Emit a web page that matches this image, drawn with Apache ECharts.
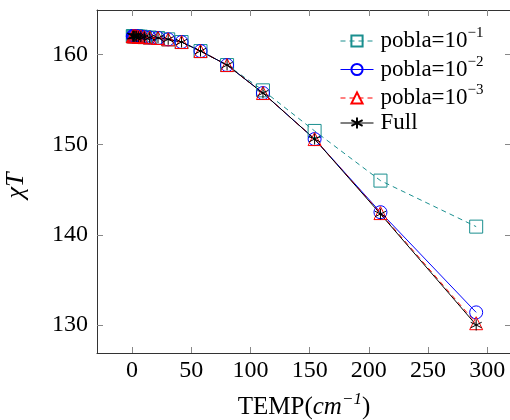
<!DOCTYPE html>
<html><head><meta charset="utf-8">
<script src="https://cdn.jsdelivr.net/npm/echarts@6/dist/echarts.min.js"></script>
<style>html,body{margin:0;padding:0;background:#fff}#c{width:510px;height:420px}</style>
</head><body><div id="c"></div>
<script>
const temps = [0.7, 1.0, 1.4, 2.0, 2.8, 3.9, 5.4, 7.5, 10.5, 15.0, 22.0, 30.6, 41.9, 57.9, 80.3, 110.6, 154.2, 209.8, 290.6];
const pobla1 = [162.0, 162.0, 162.0, 162.0, 162.0, 162.0, 161.95, 161.95, 161.9, 161.85, 161.8, 161.65, 161.35, 160.35, 158.8, 156.0, 151.5, 146.0, 140.9];
const pobla2 = [162.0, 162.0, 162.0, 162.0, 162.0, 162.0, 161.95, 161.95, 161.9, 161.85, 161.8, 161.65, 161.35, 160.35, 158.8, 155.7, 150.6, 142.5, 131.4];
const pobla3 = [162.0, 162.0, 162.0, 162.0, 162.0, 162.0, 161.95, 161.95, 161.9, 161.85, 161.8, 161.65, 161.35, 160.35, 158.8, 155.7, 150.6, 142.4, 130.2];
const full   = [162.0, 162.0, 162.0, 162.0, 162.0, 162.0, 161.95, 161.95, 161.9, 161.85, 161.8, 161.65, 161.35, 160.35, 158.8, 155.7, 150.6, 142.3, 130.0];
const xTicks = [0, 50, 100, 150, 200, 250, 300];
const yTicks = [130, 140, 150, 160];
const seriesNames = ['pobla=10^-1', 'pobla=10^-2', 'pobla=10^-3', 'Full'];

const FONT = 'Liberation Serif';
const teal = '#1a8f8f', blue = '#0000ff', red = '#ff0000', black = '#000000';
const star = 'path://M0,-10L0,10M-8.66,-5L8.66,5M-8.66,5L8.66,-5';

function pairs(ys){ return temps.map((t,i)=>[t, ys[i]]); }

const tickStyle = {show:true, inside:true, length:6, lineStyle:{color:'#888', width:1}};
const lineAxis = {show:true, onZero:false, lineStyle:{color:'#333', width:1}};

function mkSeries(name, ys, color, symbol, size, dashed){
  return {
    name, type:'line', data: pairs(ys), symbol, symbolSize:size, showSymbol:true,
    lineStyle:{color, width:1, type: dashed ? [5,4] : 'solid'},
    itemStyle:{color: symbol===star ? color : 'rgba(0,0,0,0)', borderColor:color, borderWidth:1},
    emphasis:{disabled:true}, animation:false
  };
}

const chart = echarts.init(document.getElementById('c'), null, {renderer:'canvas'});
chart.setOption({
  animation:false,
  grid:{left:97, right:-1, top:10, bottom:67, outerBoundsMode:'none', containLabel:false},
  legend:{
    orient:'vertical', left:335, top:21, itemWidth:33, itemHeight:14, itemGap:-1.5,
    data: seriesNames,
    lineStyle:{width:1},
    formatter: n => n.indexOf('^')>=0 ? n.split('^')[0] + '{sup|' + n.split('^')[1].replace('-', '−') + '}' : n,
    textStyle:{fontFamily:FONT, fontSize:23, color:'#000', lineHeight:20, padding:[0,0,0,2],
      rich:{sup:{fontFamily:FONT, fontSize:15, lineHeight:20, padding:[0,0,15,0]}}}
  },
  xAxis:[{
    type:'value', min:-29.5, max:320, position:'bottom',
    axisLine:lineAxis, splitLine:{show:false},
    axisTick:Object.assign({customValues:xTicks}, tickStyle),
    axisLabel:{customValues:xTicks, fontFamily:FONT, fontSize:24, color:'#000', margin:6},
    name:'TEMP({it|cm}{sup|−1})', nameLocation:'middle', nameGap:38,
    nameTextStyle:{fontFamily:FONT, fontSize:25, color:'#000',
      rich:{it:{fontFamily:FONT, fontStyle:'italic', fontSize:25}, sup:{fontFamily:FONT, fontStyle:'italic', fontSize:17, padding:[0,0,15,0]}}}
  },{
    type:'value', min:-29.5, max:320, position:'top',
    axisLine:lineAxis, splitLine:{show:false},
    axisTick:Object.assign({customValues:xTicks}, tickStyle),
    axisLabel:{show:false}
  }],
  yAxis:[{
    type:'value', min:126.9, max:164.9, position:'left',
    axisLine:lineAxis, splitLine:{show:false},
    axisTick:Object.assign({customValues:yTicks}, tickStyle),
    axisLabel:{customValues:yTicks, fontFamily:FONT, fontSize:24, color:'#000', margin:9},
    name:'χT', nameLocation:'middle', nameGap:68, nameRotate:90,
    nameTextStyle:{fontFamily:FONT, fontStyle:'italic', fontSize:26, color:'#000', padding:[0,8,0,0]}
  },{
    type:'value', min:126.9, max:164.9, position:'right',
    axisLine:lineAxis, splitLine:{show:false},
    axisTick:Object.assign({customValues:yTicks}, tickStyle),
    axisLabel:{show:false}
  }],
  series:[
    mkSeries(seriesNames[0], pobla1, teal, 'rect', 13, true),
    mkSeries(seriesNames[1], pobla2, blue, 'circle', 13, false),
    mkSeries(seriesNames[2], pobla3, red, 'triangle', 13, true),
    mkSeries(seriesNames[3], full, black, star, 11, false)
  ]
});
</script></body></html>
